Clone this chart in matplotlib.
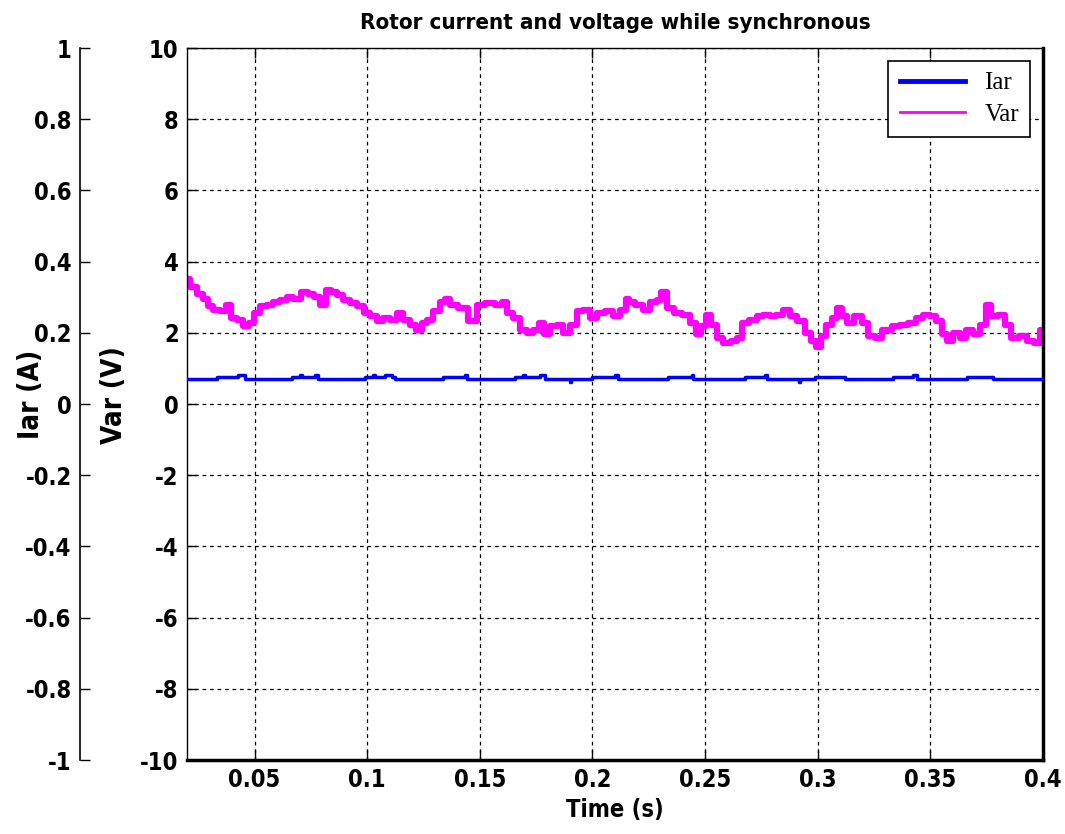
import matplotlib.pyplot as plt
from matplotlib.lines import Line2D

# Var (V)
var_t = [0.0200, 0.0228, 0.0258, 0.0280, 0.0302, 0.0332, 0.0361, 0.0383, 0.0406, 0.0435,
         0.0465, 0.0487, 0.0509, 0.0539, 0.0568, 0.0598, 0.0627, 0.0657, 0.0687, 0.0724,
         0.0753, 0.0776, 0.0805, 0.0827, 0.0849, 0.0879, 0.0909, 0.0938, 0.0975, 0.0998,
         0.1027, 0.1057, 0.1086, 0.1116, 0.1145, 0.1175, 0.1204, 0.1227, 0.1256, 0.1279,
         0.1308, 0.1338, 0.1353, 0.1382, 0.1426, 0.1471, 0.1500, 0.1545, 0.1589, 0.1611,
         0.1634, 0.1663, 0.1693, 0.1722, 0.1752, 0.1774, 0.1797, 0.1826, 0.1856, 0.1885,
         0.1915, 0.1944, 0.1974, 0.2003, 0.2033, 0.2077, 0.2107, 0.2137, 0.2159, 0.2166,
         0.2211, 0.2240, 0.2270, 0.2299, 0.2314, 0.2344, 0.2381, 0.2418, 0.2447, 0.2469,
         0.2492, 0.2514, 0.2536, 0.2566, 0.2595, 0.2632, 0.2655, 0.2677, 0.2714, 0.2743,
         0.2773, 0.2802, 0.2832, 0.2862, 0.2891, 0.2928, 0.2958, 0.2980, 0.3002, 0.3024,
         0.3054, 0.3076, 0.3098, 0.3121, 0.3143, 0.3180, 0.3209, 0.3239, 0.3268, 0.3306,
         0.3350, 0.3379, 0.3424, 0.3453, 0.3483, 0.3512, 0.3542, 0.3564, 0.3587, 0.3616,
         0.3646, 0.3675, 0.3705, 0.3734, 0.3757, 0.3786, 0.3816, 0.3845, 0.3875, 0.3912,
         0.3942, 0.3979, 0.3994]
var_v = [3.51, 3.29, 3.10, 2.96, 2.74, 2.64, 2.60, 2.78, 2.41, 2.37,
         2.18, 2.28, 2.55, 2.74, 2.78, 2.87, 2.92, 3.01, 2.96, 3.15,
         3.10, 3.01, 2.78, 3.20, 3.15, 3.06, 2.92, 2.83, 2.74, 2.55,
         2.46, 2.32, 2.41, 2.37, 2.55, 2.37, 2.23, 2.09, 2.28, 2.37,
         2.60, 2.87, 2.96, 2.78, 2.69, 2.32, 2.78, 2.83, 2.78, 2.87,
         2.55, 2.41, 2.09, 2.00, 2.09, 2.28, 1.96, 2.18, 2.23, 2.00,
         2.23, 2.60, 2.64, 2.41, 2.55, 2.60, 2.46, 2.64, 2.96, 2.87,
         2.78, 2.64, 2.87, 2.92, 3.15, 2.69, 2.55, 2.51, 2.28, 1.96,
         2.18, 2.51, 2.23, 1.86, 1.72, 1.77, 1.86, 2.28, 2.37, 2.46,
         2.51, 2.46, 2.51, 2.64, 2.46, 2.32, 2.00, 1.77, 1.59, 1.91,
         2.23, 2.41, 2.69, 2.46, 2.28, 2.46, 2.28, 1.91, 1.86, 2.09,
         2.18, 2.23, 2.28, 2.41, 2.51, 2.46, 2.32, 1.96, 1.77, 2.00,
         1.86, 2.09, 1.96, 2.23, 2.78, 2.46, 2.51, 2.23, 1.86, 1.91,
         1.77, 1.72, 2.09]

# Iar (A) step trace
iar_t = [0.0200, 0.0332, 0.0428, 0.0457, 0.0665, 0.0702, 0.0710, 0.0768, 0.0783,
         0.0990, 0.1027, 0.1035, 0.1079, 0.1109, 0.1123, 0.1338, 0.1434, 0.1441,
         0.1656, 0.1691, 0.1700, 0.1767, 0.1789, 0.1900, 0.1905, 0.1996, 0.2100,
         0.2113, 0.2335, 0.2440, 0.2446, 0.2677, 0.2765, 0.2773, 0.2916, 0.2921,
         0.2987, 0.3121, 0.3334, 0.3422, 0.3439, 0.3661, 0.3777, 0.4000]
iar_v = [0.069, 0.075, 0.081, 0.069, 0.075, 0.081, 0.075, 0.081, 0.069,
         0.075, 0.081, 0.075, 0.081, 0.075, 0.069, 0.075, 0.081, 0.069,
         0.075, 0.081, 0.075, 0.081, 0.069, 0.063, 0.069, 0.075, 0.081,
         0.069, 0.075, 0.081, 0.069, 0.075, 0.081, 0.069, 0.063, 0.069,
         0.075, 0.069, 0.075, 0.081, 0.069, 0.075, 0.069, 0.069]

x_ticks = [0.05, 0.1, 0.15, 0.2, 0.25, 0.3, 0.35, 0.4]
x_labels = ['0.05', '0.1', '0.15', '0.2', '0.25', '0.3', '0.35', '0.4']
v_ticks = [-10, -8, -6, -4, -2, 0, 2, 4, 6, 8, 10]
i_ticks = [-1, -0.8, -0.6, -0.4, -0.2, 0, 0.2, 0.4, 0.6, 0.8, 1]
i_labels = ['-1', '-0.8', '-0.6', '-0.4', '-0.2', '0', '0.2', '0.4', '0.6', '0.8', '1']

plt.rcParams['font.family'] = ['DejaVu Sans']
plt.rcParams['font.weight'] = 'bold'
plt.rcParams['font.stretch'] = 'condensed'

fig = plt.figure(figsize=(10.65, 8.34), dpi=100)
ax = fig.add_axes([0.1756, 0.0887, 0.8037, 0.8537])

ax.plot(var_t, var_v, color='#FF00FF', lw=4.5, drawstyle='steps-mid')
ax.set_xlim(0.02, 0.4)
ax.set_ylim(-10, 10)
ax.set_xticks(x_ticks)
ax.set_xticklabels(x_labels)
ax.set_yticks(v_ticks)
ax.set_yticklabels([str(v) for v in v_ticks])
ax.grid(True, color='black', linestyle=(0, (3, 3)), linewidth=0.9)
ax.tick_params(direction='in', length=7, width=1, labelsize=17, pad=6,
               top=True, right=True)
for s in ['left', 'top']:
    ax.spines[s].set_linewidth(1.0)
for s in ['bottom', 'right']:
    ax.spines[s].set_linewidth(2.5)

ax.set_title('Rotor current and voltage while synchronous', fontsize=16,
             fontweight='bold', pad=14)
ax.set_xlabel('Time (s)', fontsize=17, fontweight='bold', labelpad=4)
ax.set_ylabel('Var (V)', fontsize=20, fontweight='bold')
ax.yaxis.set_label_coords(-0.069, 0.513)

# current axis on the far left
ax2 = ax.twinx()
ax2.plot(iar_t, iar_v, color='#0000FF', lw=2.5, drawstyle='steps-post')
ax2.set_ylim(-1, 1)
ax2.set_yticks(i_ticks)
ax2.set_yticklabels(i_labels)
ax2.spines['left'].set_position(('outward', 77))
ax2.spines['left'].set_visible(True)
ax2.spines['left'].set_linewidth(1.2)
for s in ['right', 'top', 'bottom']:
    ax2.spines[s].set_visible(False)
ax2.yaxis.set_ticks_position('left')
ax2.yaxis.set_label_position('left')
ax2.tick_params(direction='in', length=7, width=1, labelsize=17, pad=6)
ax2.set_ylabel('Iar (A)', fontsize=20, fontweight='bold')
ax2.yaxis.set_label_coords(-0.166, 0.513)

handles = [Line2D([], [], color='#0000FF', lw=3.5),
           Line2D([], [], color='#FF00FF', lw=2)]
leg = ax2.legend(handles, ['Iar', 'Var'], loc='upper right',
                 prop={'family': 'Liberation Serif', 'weight': 'normal', 'size': 18},
                 fancybox=False, edgecolor='black', framealpha=1,
                 borderaxespad=0.5, handlelength=2.6, labelspacing=0.35,
                 borderpad=0.45)
leg.get_frame().set_linewidth(1.2)

fig.savefig('out.png', dpi=100)
